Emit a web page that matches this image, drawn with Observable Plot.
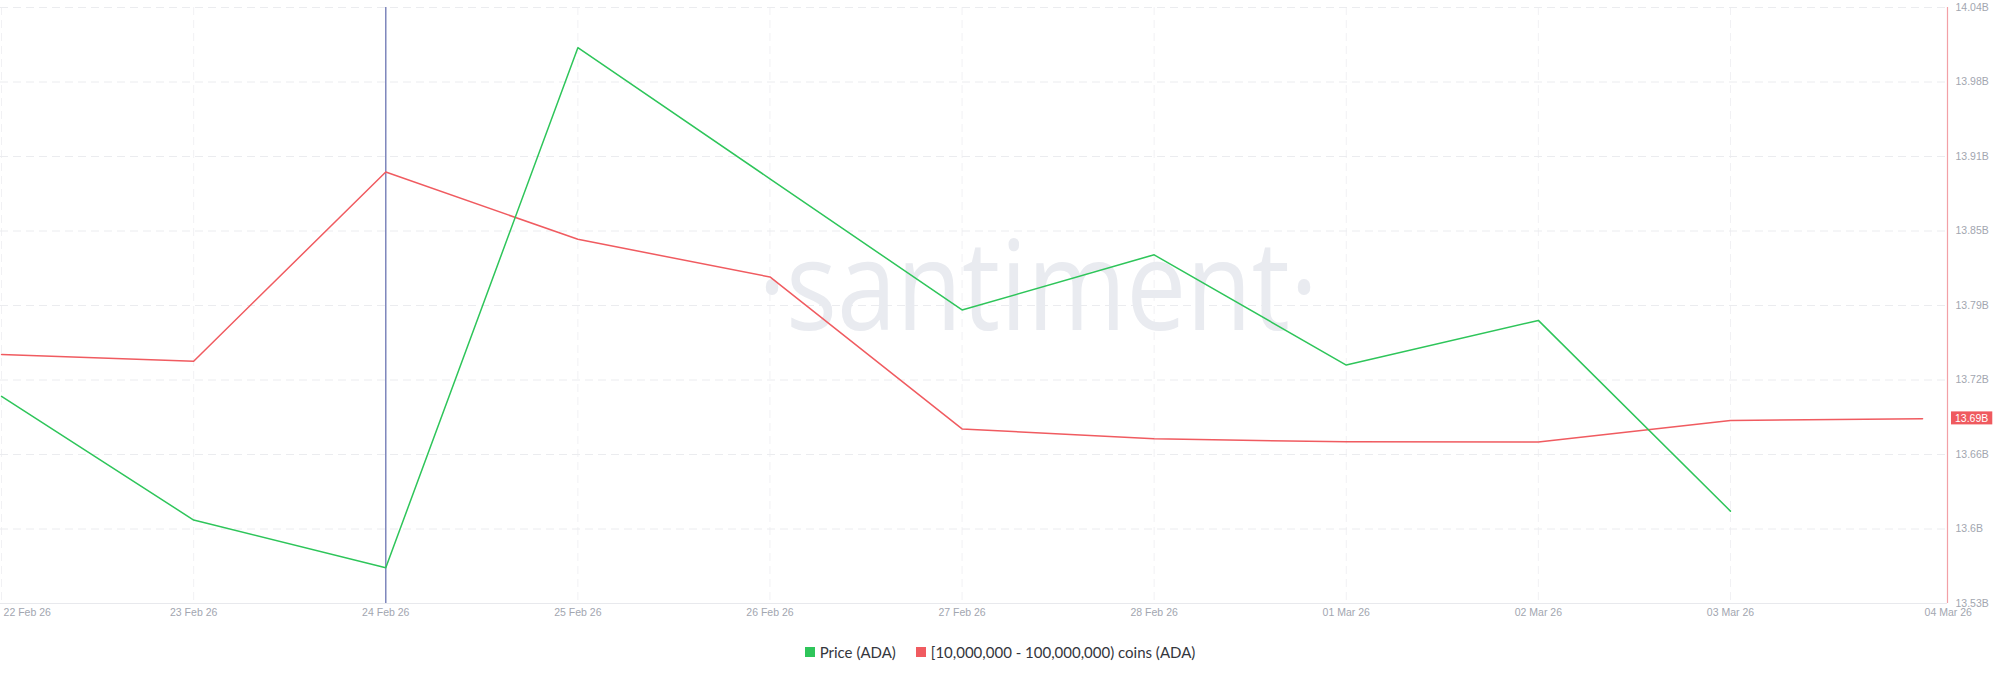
<!DOCTYPE html>
<html><head><meta charset="utf-8">
<script src="https://cdn.jsdelivr.net/npm/d3@7"></script>
<script src="https://cdn.jsdelivr.net/npm/@observablehq/plot@0.6"></script>
<style>
body{margin:0;background:#fff;}
#chart{position:relative;width:2000px;height:630px;}
#chart svg{position:absolute;left:0;top:0;}
#legend{display:flex;justify-content:center;align-items:center;font-family:Lato,"Open Sans",sans-serif;font-size:15px;color:#34363c;margin-top:12px;height:20px;}
#legend .item{display:flex;align-items:center;margin:0 10px;}
#legend .sw{width:10px;height:10px;margin-right:5px;}
</style></head>
<body>
<div id="chart"></div>
<div id="legend"></div>
<script>
// ---- data ----
const dates = ["2026-02-22","2026-02-23","2026-02-24","2026-02-25","2026-02-26","2026-02-27","2026-02-28","2026-03-01","2026-03-02","2026-03-03","2026-03-04"];
const price = [0.2739, 0.2656, 0.2624, 0.2973, 0.2885, 0.2797, 0.2834, 0.2760, 0.2790, 0.2662]; // 22 Feb .. 03 Mar
const holdings = [13.7454, 13.7397, 13.9014, 13.8439, 13.8117, 13.6818, 13.6733, 13.6707, 13.6705, 13.6890, 13.6904]; // billions
const yTicks = [13.5325, 13.5962, 13.6599, 13.7236, 13.7873, 13.8510, 13.9147, 13.9784, 14.0421];
const seriesNames = ["Price (ADA)", "[10,000,000 - 100,000,000) coins (ADA)"];
const seriesColors = ["#2ec55a", "#f05b60"];
const markerDate = "2026-02-24";
const watermark = "·santiment·";

// ---- setup ----
const parse = d3.utcParse("%Y-%m-%d");
const D = dates.map(parse);
const xDomain = [new Date(Date.UTC(2026,1,21,23,52)), new Date(Date.UTC(2026,2,4,3,7))];
const yDomain = [yTicks[0], yTicks[yTicks.length-1]];
const priceDomain = [0.26, 0.30];
const W = 2000, H = 630;
const margins = {marginTop: 7, marginBottom: 27, marginLeft: 0, marginRight: 53};
const fmtDate = d3.utcFormat("%d %b %y");
const fmtY = d => d3.format(".4~r")(d) + "B";
const holdData = D.map((d,i) => ({date: d, v: holdings[i]}));
const priceData = price.map((v,i) => ({date: D[i], v}));
const axisColor = "#a2a6b0";
const axisFont = 10.5;

const p1 = Plot.plot({
  width: W, height: H, ...margins,
  style: {background: "#fff", fontFamily: "'Liberation Sans', Arial, sans-serif", fontSize: "10.5px", overflow: "visible"},
  x: {type: "utc", domain: xDomain, axis: null, label: null},
  y: {domain: yDomain, axis: null, label: null},
  marks: [
    Plot.gridX(D.slice(0, D.length-1), {stroke: "#f1f1f4", strokeOpacity: 1, strokeDasharray: "8,5"}),
    Plot.gridY(yTicks, {stroke: "#ebecef", strokeOpacity: 1, strokeDasharray: "8,5"}),
    Plot.ruleY([yDomain[0]], {stroke: "#e8e9ed"}),
    Plot.text([watermark], {frameAnchor: "middle", dx: 64, dy: -16, fontSize: 125, fill: "#e9ebf0", fontFamily: "'Open Sans', sans-serif"}),
    Plot.ruleX([parse(markerDate)], {stroke: "#7f87bd", strokeWidth: 1.5}),
    Plot.line(holdData, {x: "date", y: "v", stroke: seriesColors[1], strokeWidth: 1.5}),
    Plot.ruleX([xDomain[1]], {stroke: "#f3a0a6", strokeWidth: 1.2}),
    Plot.axisY({anchor: "right", label: null, ticks: yTicks, tickSize: 0, tickPadding: 8, tickFormat: fmtY, color: axisColor, fontSize: axisFont}),
    Plot.text(D.slice(1, D.length-1), {x: d => d, frameAnchor: "bottom", lineAnchor: "top", dy: 5, text: fmtDate, fill: axisColor, fontSize: axisFont}),
    Plot.text([D[0], D[D.length-1]], {x: d => d, frameAnchor: "bottom", lineAnchor: "top", dy: 5, dx: 2, textAnchor: "start", text: fmtDate, fill: axisColor, fontSize: axisFont})
  ]
});

const p2 = Plot.plot({
  width: W, height: H, ...margins,
  style: {background: "transparent", overflow: "visible"},
  x: {type: "utc", domain: xDomain, axis: null, label: null},
  y: {domain: priceDomain, axis: null, label: null},
  marks: [
    Plot.line(priceData, {x: "date", y: "v", stroke: seriesColors[0], strokeWidth: 1.5})
  ]
});

const chart = document.getElementById("chart");
chart.appendChild(p1);
chart.appendChild(p2);

// watermark width
p1.querySelectorAll("text").forEach(t => {
  if (t.textContent === watermark) { t.setAttribute("textLength", 560); t.setAttribute("lengthAdjust", "spacingAndGlyphs"); }
});

// current-value badge on the right axis, positioned through the plot's own scales
const last = holdings[holdings.length-1];
const yPix = p1.scale("y").apply(last);
const xPix = p1.scale("x").range[1];
const g = d3.select(p1).append("g")
  .attr("font-family", "'Liberation Sans', Arial, sans-serif")
  .attr("font-size", axisFont)
  .attr("text-anchor", "start");
const rect = g.append("rect").attr("fill", "#ef5a5f");
const txt = g.append("text").attr("text-anchor", "start").attr("x", xPix + 8).attr("y", yPix).attr("dy", "0.34em").attr("fill", "#fff").text(fmtY(last));
const bb = txt.node().getBBox();
rect.attr("x", bb.x - 4).attr("y", bb.y - 0.5).attr("width", bb.width + 8).attr("height", bb.height + 1);

// legend
const legend = document.getElementById("legend");
seriesNames.forEach((n, i) => {
  const it = document.createElement("div"); it.className = "item";
  const sw = document.createElement("span"); sw.className = "sw"; sw.style.background = seriesColors[i];
  const tx = document.createElement("span"); tx.textContent = n;
  it.appendChild(sw); it.appendChild(tx); legend.appendChild(it);
});
</script>
</body></html>
